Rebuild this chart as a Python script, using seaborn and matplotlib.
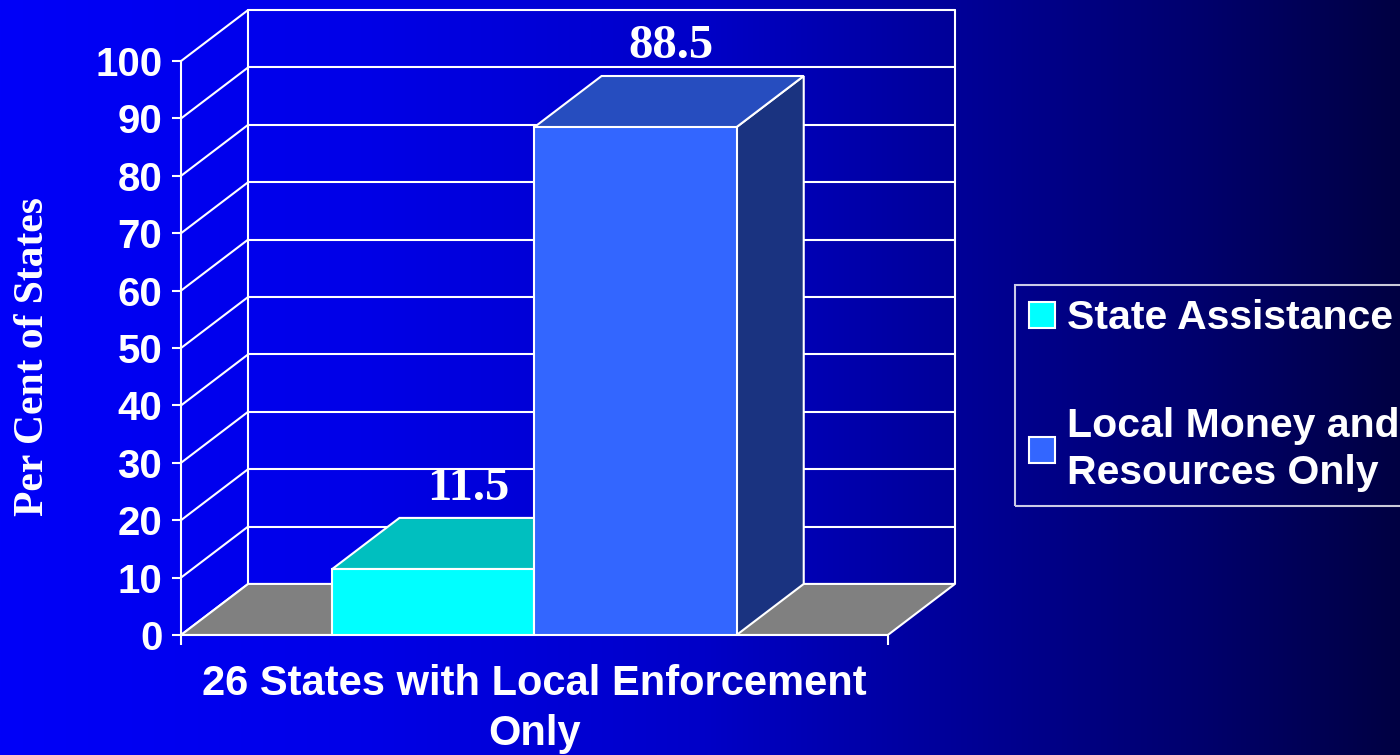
import numpy as np
import pandas as pd
import seaborn as sns
import matplotlib.pyplot as plt
from matplotlib.patches import Polygon, Patch
from matplotlib.colors import to_rgb

# values
group = ["26 States with Local Enforcement\nOnly"]
sources = ["State Assistance", "Local Money and\nResources Only"]
percent = [11.5, 88.5]
bar_labels = ["11.5", "88.5"]
y_ticks = [0, 10, 20, 30, 40, 50, 60, 70, 80, 90, 100]
colors = ["#00FFFF", "#3366FF"]

df = pd.DataFrame({"group": group * len(sources), "source": sources, "percent": percent})

sns.set_style("white")
plt.rcParams["font.family"] = ["Liberation Sans", "DejaVu Sans"]
plt.rcParams["font.weight"] = "bold"

DX, DY = 0.095, 8.9   # fake 3d depth (x units, y units)
LW = 1.5

fig = plt.figure(figsize=(14, 7.55), dpi=100)

# blue gradient background
bg = fig.add_axes([0, 0, 1, 1])
stops = [0, 0.25, 0.5, 0.71, 0.86, 1.0]
blues = np.array([248, 232, 200, 145, 108, 66]) / 255
t = np.linspace(0, 1, 800)
grad = np.zeros((2, 800, 3))
grad[..., 2] = np.interp(t, stops, blues)
bg.imshow(grad, aspect="auto", extent=[0, 1, 0, 1])
bg.axis("off")

ax = fig.add_axes([181 / 1400, 120 / 755, 774 / 1400, 625 / 755])
ax.set_facecolor("none")

sns.barplot(data=df, x="group", y="percent", hue="source", hue_order=sources,
            palette=colors, saturation=1, width=0.572, edgecolor="white",
            linewidth=LW, legend=False, zorder=3, ax=ax)

ax.set_xlim(-0.5, 0.5 + DX)
ax.set_ylim(0, 100 + DY)

# back wall + side wall grid
for v in y_ticks:
    ax.plot([-0.5, -0.5 + DX], [v, v + DY], color="white", lw=LW, zorder=1, clip_on=False)
    if v > 0:
        ax.plot([-0.5 + DX, 0.5 + DX], [v + DY, v + DY], color="white", lw=LW, zorder=1, clip_on=False)
for xe in [-0.5 + DX, 0.5 + DX]:
    ax.plot([xe, xe], [DY, 100 + DY], color="white", lw=LW, zorder=1, clip_on=False)

# floor
ax.add_patch(Polygon([(-0.5, 0), (0.5, 0), (0.5 + DX, DY), (-0.5 + DX, DY)],
                     closed=True, facecolor="#808080", edgecolor="white", lw=LW, zorder=1.5))

# tops and sides of the bars
for cont, c, lab in zip(ax.containers, colors, bar_labels):
    for p in cont:
        x0, w, h = p.get_x(), p.get_width(), p.get_height()
        x1 = x0 + w
        rgb = np.array(to_rgb(c))
        top = [(x0, h), (x1, h), (x1 + DX, h + DY), (x0 + DX, h + DY)]
        side = [(x1, 0), (x1 + DX, DY), (x1 + DX, h + DY), (x1, h)]
        ax.add_patch(Polygon(side, closed=True, facecolor=rgb * 0.5, edgecolor="white", lw=LW, zorder=2.5))
        ax.add_patch(Polygon(top, closed=True, facecolor=rgb * 0.75, edgecolor="white", lw=LW, zorder=2.5))
        ax.text(x0 + w / 2 + 0.05, h + DY + 3.2, lab, ha="center", va="baseline",
                color="white", fontsize=35, fontweight="bold", family="Liberation Serif")

# axes styling
for s in ["top", "right"]:
    ax.spines[s].set_visible(False)
for s in ["left", "bottom"]:
    ax.spines[s].set_color("white")
    ax.spines[s].set_linewidth(LW)
ax.spines["left"].set_bounds(0, 100)
ax.spines["bottom"].set_bounds(-0.5, 0.5)

ax.set_yticks(y_ticks)
ax.set_yticklabels([str(v) for v in y_ticks])
ax.tick_params(axis="y", left=True, colors="white", labelsize=29, length=6.5, width=LW, pad=7)
ax.set_xticks([0])
ax.set_xticklabels(group)
ax.tick_params(axis="x", which="major", bottom=True, length=0, pad=21, labelsize=30, labelcolor="white")
for lbl in ax.get_xticklabels():
    lbl.set_linespacing(1.32)
ax.set_xticks([-0.5, 0.5], minor=True)
ax.tick_params(axis="x", which="minor", bottom=True, length=7, width=LW, color="white")
ax.set_xlabel("")
ax.set_ylabel("")

fig.text(33 / 1400, 1 - 357 / 755, "Per Cent of States", rotation=90, ha="center", va="center",
         color="white", fontsize=30, fontweight="bold", family="Liberation Serif")

handles = [Patch(facecolor=c, edgecolor="white", linewidth=LW) for c in colors]
leg = fig.legend(handles, sources, loc="upper left", bbox_to_anchor=(1015 / 1400, 1 - 285 / 755),
                 frameon=True, fancybox=False, facecolor="none", edgecolor="white",
                 prop={"family": "Liberation Sans", "weight": "bold", "size": 29.5},
                 labelcolor="white", handlelength=0.62, handleheight=0.62,
                 handletextpad=0.3, borderpad=0.35, labelspacing=1.7, borderaxespad=0)
leg.get_frame().set_linewidth(LW)
for txt in leg.get_texts():
    txt.set_linespacing(1.3)

fig.savefig("out.png", dpi=100)
